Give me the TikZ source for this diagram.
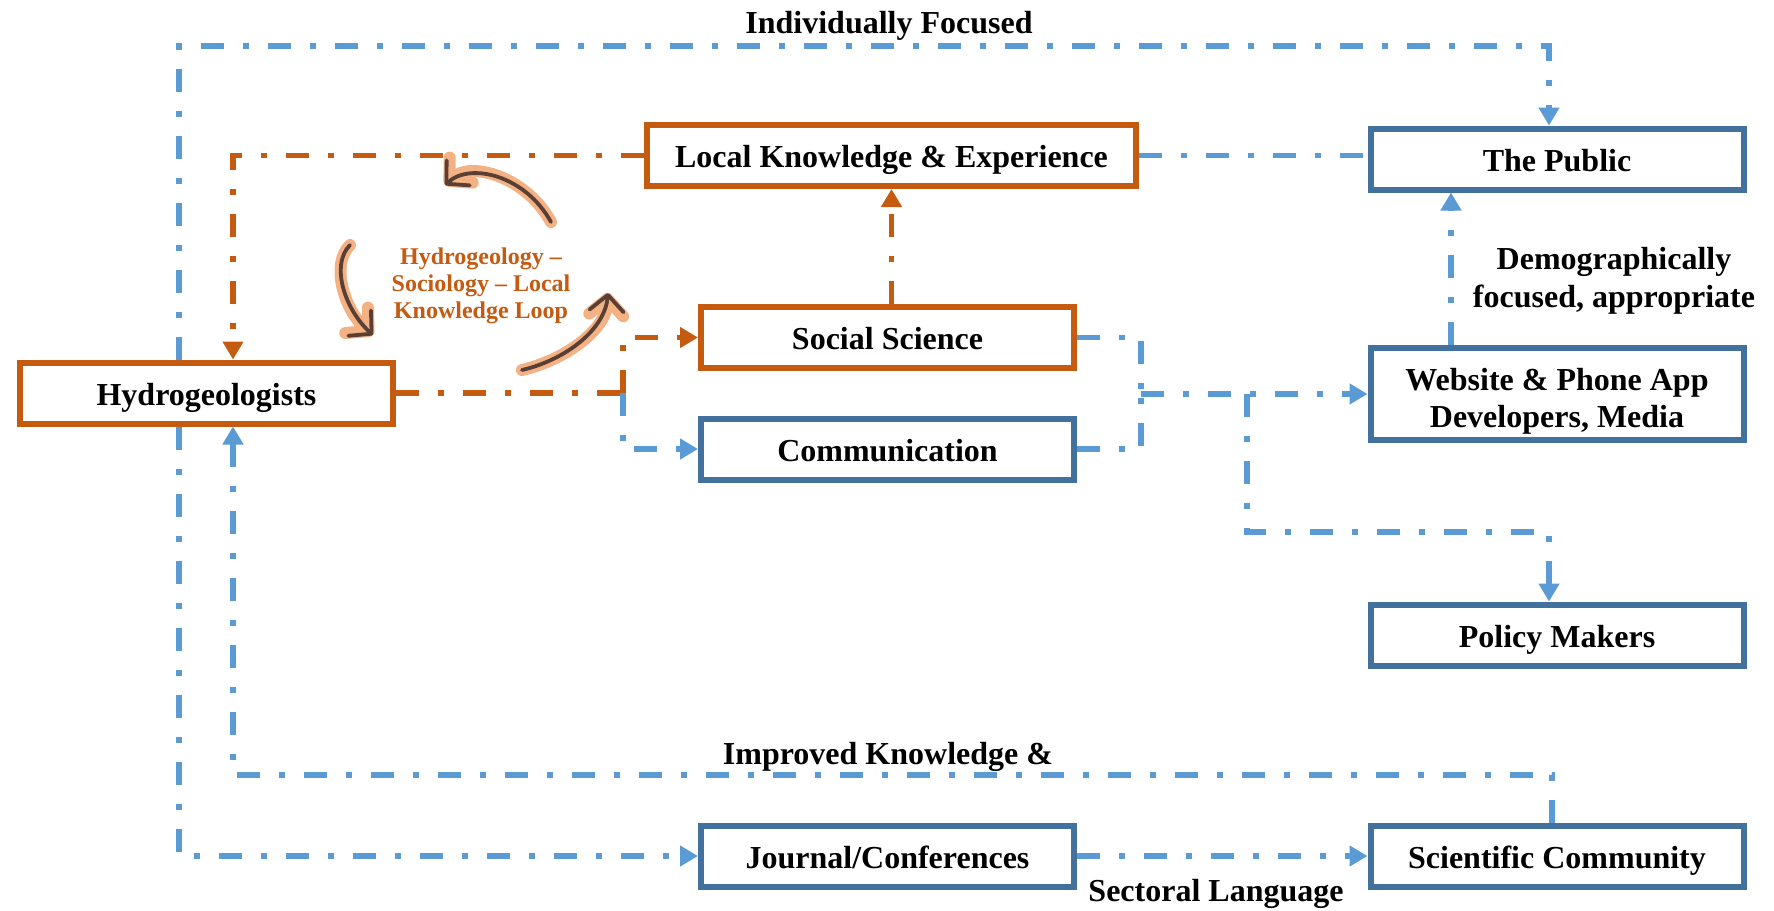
\documentclass[tikz,border=0pt]{standalone}
\usepackage{fontspec}
\setmainfont{Liberation Serif}
\usetikzlibrary{arrows.meta,calc}
\definecolor{org}{HTML}{C55A11}
\definecolor{bln}{HTML}{5B9BD5}
\definecolor{bbox}{HTML}{41719C}
\definecolor{glowc}{HTML}{F4B183}
\definecolor{corec}{HTML}{5A4034}
\begin{document}
\begin{tikzpicture}[x=0.5pt,y=-0.5pt,
  box/.style={draw, line width=3pt, fill=white, minimum width=186.5pt, minimum height=30.5pt,
    inner sep=0pt, outer sep=1.5pt, font=\bfseries\fontsize{16}{18.5}\selectfont, align=center,
    text height=12pt, text depth=0pt},
  obox/.style={box, draw=org},
  bbx/.style={box, draw=bbox},
  conn/.style={line width=2.8pt, dash pattern=on 11.5pt off 9.5pt on 3pt off 9.5pt},
  oline/.style={conn, draw=org},
  bline/.style={conn, draw=bln},
  tip/.style={-{Triangle[length=9pt,width=10pt]}},
  lbl/.style={font=\bfseries\fontsize{16}{19}\selectfont, align=center, inner sep=0pt},
  loopglow/.style={draw=glowc, line width=6pt, line cap=round, line join=round,
    -{Straight Barb[round,length=8pt,width=17pt]}},
  loopcore/.style={draw=corec, line width=1.9pt, line cap=round, line join=round,
    -{Straight Barb[round,length=8pt,width=17pt]}}
]
\fill[white] (0,0) rectangle (1774,911);
\useasboundingbox (0,0) rectangle (1774,911);

% boxes
\node[obox] (hyd) at (206.5,393) {Hydrogeologists};
\node[obox, minimum width=244.5pt] (lk) at (891.5,155.5) {Local Knowledge \& Experience};
\node[obox] (ss) at (887.5,337.5) {Social Science};
\node[bbx] (com) at (887.5,449) {Communication};
\node[bbx] (pub) at (1557,159) {The Public};
\node[bbx, minimum height=46pt] (web) at (1557,394) {};
\node[lbl, font=\bfseries\fontsize{16}{18.5}\selectfont] (webt) at ($(web.center)+(0,7)$) {Website \& Phone App\\Developers, Media};
\node[bbx] (pol) at (1557,635) {Policy Makers};
\node[bbx] (jou) at (887.5,856) {Journal/Conferences};
\node[bbx] (sci) at (1557,856) {Scientific Community};

% helper coordinates
\coordinate (xl) at (179,0);
\coordinate (xa) at (233,0);
\coordinate (j0) at (623,393);
\coordinate (j1) at (1141,394);
\coordinate (j2) at (1247,394);
\coordinate (k1) at (1549,532);
\coordinate (tc) at (1549,46);
\coordinate (xu) at (1451,0);
\coordinate (xs) at (1552,0);
\coordinate (ic) at (233,775);

% orange connectors
\draw[oline, tip] (lk.west) -| (xa |- hyd.north);
\draw[oline, tip] (lk.south |- ss.north) -- (lk.south);
\draw[oline] (hyd.east) -- (j0);
\draw[oline, tip] (j0) |- (ss.west);

% blue connectors
\draw[bline, tip] (j0) |- (com.west);
\draw[bline] (ss.east) -| (j1);
\draw[bline] (com.east) -| (j1);
\draw[bline, tip] (j1) -- (web.west);
\draw[bline, tip] (j2) |- (k1) -- (k1 |- pol.north);
\draw[bline] (lk.east) -- (pub.west |- lk.east);
\draw[bline, tip] (xu |- web.north) -- (xu |- pub.south);
\draw[bline, tip] (xl |- hyd.north) |- (tc) -- (tc |- pub.north);
\draw[bline, tip] (xl |- hyd.south) |- (jou.west);
\draw[bline, tip] (jou.east) -- (sci.west);
\draw[bline, tip] (xs |- sci.north) |- (ic) -- (ic |- hyd.south);

% labels
\node[lbl] (t1) at (889,26) {Individually Focused};
\node[lbl] (t2) at (888,757) {Improved Knowledge \&};
\node[lbl] (t3) at (1216,894) {Sectoral Language};
\node[lbl] (t4) at (1614,281) {Demographically\\focused, appropriate};
\node[lbl, text=org, font=\bfseries\fontsize{12}{13.5}\selectfont] (t5) at (481,286)
  {Hydrogeology –\\Sociology – Local\\Knowledge Loop};

% loop arrows
\draw[loopglow] (551,222) .. controls (525,175) and (470,162) .. (445,185);
\draw[loopcore] (551,222) .. controls (525,175) and (470,162) .. (445,185);
\draw[loopglow] (350,245) .. controls (330,265) and (345,310) .. (373,335);
\draw[loopcore] (350,245) .. controls (330,265) and (345,310) .. (373,335);
\draw[loopglow] (522,370) .. controls (565,360) and (605,330) .. (608,293);
\draw[loopcore] (522,370) .. controls (565,360) and (605,330) .. (608,293);
\end{tikzpicture}
\end{document}
